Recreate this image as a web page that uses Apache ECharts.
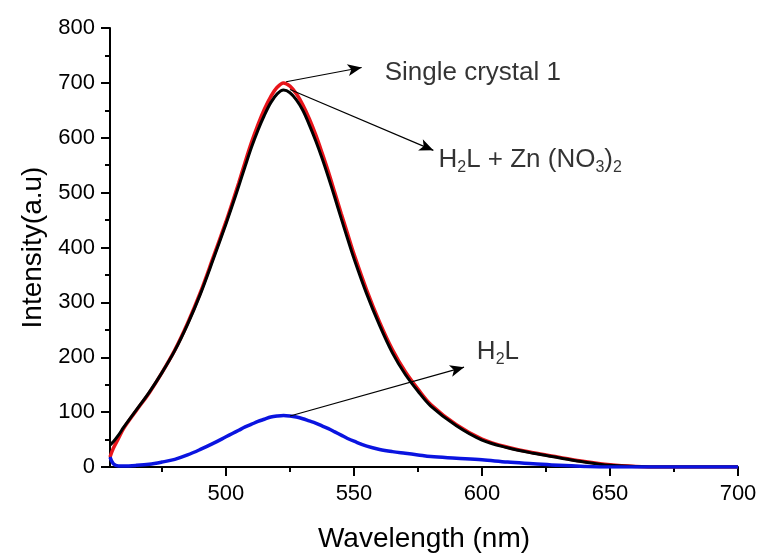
<!DOCTYPE html>
<html>
<head>
<meta charset="utf-8">
<script src="https://cdn.jsdelivr.net/npm/echarts@6/dist/echarts.min.js"></script>
<style>
  html, body { margin: 0; padding: 0; background: #fff; }
  #chart { width: 760px; height: 558px; }
</style>
</head>
<body>
<div id="chart"></div>
<script>
// Emission wavelengths (nm)
const wavelength = [454.7, 456, 458, 460, 465, 470, 475, 480, 485, 490, 495,
  500, 502.5, 505, 507.5, 510, 512.5, 515, 517.5, 520, 522.5, 525, 527.5, 530, 532.5, 535, 537.5, 540, 542.5, 545, 547.5, 550,
  555, 560, 565, 570, 575, 580, 590, 600, 610, 620, 630, 640, 650, 660, 670, 680, 690, 700];

// Single crystal 1
const crystal = [18, 34, 52, 70, 103, 135, 172, 213, 262, 318, 382,
  447, 482, 518, 556, 592, 624, 652, 675, 692, 700, 694, 680, 660, 635, 606, 573, 538, 500, 462, 425, 388,
  322, 264, 214, 174, 142, 114, 77, 51, 36, 26, 18, 10, 4, 1, 0, 0, 0, 0];

// H2L + Zn(NO3)2
const mixture = [40, 46, 58, 72, 104, 136, 172, 212, 260, 315, 378,
  443, 477, 512, 548, 583, 614, 641, 664, 680, 687, 682, 669, 650, 624, 595, 563, 528, 491, 453, 416, 380,
  315, 258, 208, 169, 138, 111, 75, 49, 35, 25, 17, 9, 3, 1, 0, 0, 0, 0];

// H2L
const ligand = [18, 6, 2, 2, 3, 5, 9, 14, 22, 32, 43,
  55, 61, 67, 73, 78, 83, 87, 91, 93, 94, 93, 91, 88, 84, 80, 75, 70, 64, 58, 52, 47,
  38, 32, 28, 25, 22, 19, 16, 13, 9, 6, 3, 1, 0, 0, 0, 0, 0, 0];

const xMajorTicks = [500, 550, 600, 650, 700];
const xMinorTicks = [475, 525, 575, 625, 675];

// Annotation arrows: [from, to] in data units
const arrowCrystal = [[523.5, 702], [553, 728]];
const arrowMixture = [[525, 688], [581, 577]];
const arrowLigand = [[525, 93], [593, 182]];

// Annotation text anchors
const labelCrystal = [562, 719];
const labelMixture = [583, 560];
const labelLigand = [598, 210];

function pairs(xs, ys) {
  return xs.map((x, i) => [x, ys[i]]);
}

const textFont = 'Liberation Sans, Arial, sans-serif';

function arrow(seg) {
  return {
    silent: true,
    symbol: ['none', 'arrow'],
    symbolSize: [9, 14],
    lineStyle: { color: '#000', width: 1.2, type: 'solid' },
    label: { show: false },
    emphasis: { disabled: true },
    animation: false,
    data: [[{ coord: seg[0] }, { coord: seg[1] }]]
  };
}

const rich = {
  a: { fontSize: 26, fontFamily: textFont, color: '#000' },
  s: { fontSize: 16, fontFamily: textFont, color: '#000', padding: [15, 0, 0, 0] }
};

const chart = echarts.init(document.getElementById('chart'), null, { renderer: 'canvas' });

chart.setOption({
  animation: false,
  backgroundColor: '#fff',
  grid: { left: 110, right: 22, top: 28, bottom: 91, containLabel: false },
  xAxis: [
    {
      type: 'value',
      min: 454.7,
      max: 700,
      name: 'Wavelength (nm)',
      nameLocation: 'middle',
      nameGap: 58,
      nameTextStyle: { fontSize: 28, fontFamily: textFont, color: '#000' },
      axisLine: { show: true, onZero: false, lineStyle: { color: '#000', width: 2 } },
      axisTick: { show: true, inside: false, length: 9, lineStyle: { color: '#000', width: 2 }, customValues: xMajorTicks },
      axisLabel: { customValues: xMajorTicks, margin: 16, fontSize: 22, fontFamily: textFont, color: '#000' },
      splitLine: { show: false }
    },
    {
      type: 'value',
      min: 454.7,
      max: 700,
      position: 'bottom',
      axisLine: { show: false },
      axisTick: { show: true, inside: false, length: 5, lineStyle: { color: '#000', width: 2 }, customValues: xMinorTicks },
      axisLabel: { show: false },
      splitLine: { show: false }
    }
  ],
  yAxis: {
    type: 'value',
    min: 0,
    max: 800,
    interval: 100,
    name: 'Intensity(a.u)',
    nameLocation: 'middle',
    nameGap: 62,
    nameTextStyle: { fontSize: 28, fontFamily: textFont, color: '#000' },
    axisLine: { show: true, lineStyle: { color: '#000', width: 2 } },
    axisTick: { show: true, inside: false, length: 9, lineStyle: { color: '#000', width: 2 } },
    minorTick: { show: true, splitNumber: 2, length: 5, lineStyle: { color: '#000', width: 2 } },
    axisLabel: { margin: 15, fontSize: 22, fontFamily: textFont, color: '#000' },
    splitLine: { show: false }
  },
  series: [
    {
      name: 'Single crystal 1',
      type: 'line',
      data: pairs(wavelength, crystal),
      smooth: 0.35,
      showSymbol: false,
      lineStyle: { color: '#e8141a', width: 3.5 },
      itemStyle: { color: '#e8141a' },
      markLine: arrow(arrowCrystal),
      z: 2
    },
    {
      name: 'H2L + Zn(NO3)2',
      type: 'line',
      data: pairs(wavelength, mixture),
      smooth: 0.35,
      showSymbol: false,
      lineStyle: { color: '#000', width: 3 },
      itemStyle: { color: '#000' },
      markLine: arrow(arrowMixture),
      z: 3
    },
    {
      name: 'H2L',
      type: 'line',
      data: pairs(wavelength, ligand),
      smooth: 0.35,
      showSymbol: false,
      lineStyle: { color: '#0a14e0', width: 3.5 },
      itemStyle: { color: '#0a14e0' },
      markLine: arrow(arrowLigand),
      z: 4
    },
    {
      name: 'annotations',
      type: 'scatter',
      symbolSize: 0,
      silent: true,
      z: 5,
      data: [
        { value: labelCrystal, label: { formatter: '{a|Single crystal 1}' } },
        { value: labelMixture, label: { formatter: '{a|H}{s|2}{a|L + Zn (NO}{s|3}{a|)}{s|2}' } },
        { value: labelLigand, label: { formatter: '{a|H}{s|2}{a|L}' } }
      ],
      label: { show: true, position: 'right', distance: 0, rich: rich }
    }
  ]
});
</script>
</body>
</html>
